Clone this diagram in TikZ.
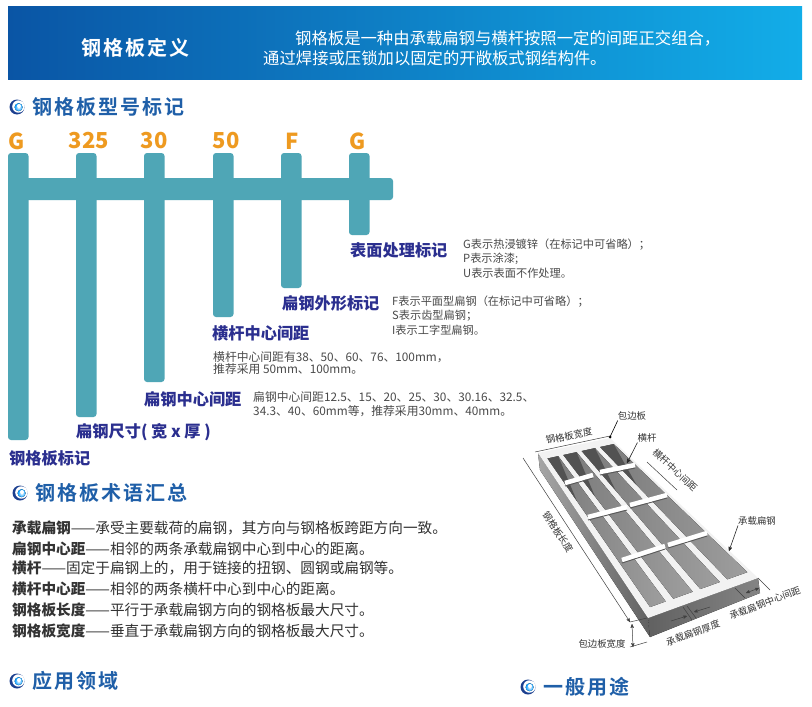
\documentclass[tikz,border=0pt]{standalone}
\usepackage{fontspec}
\setmainfont{Noto Sans CJK SC}
\usepackage{tikz}
\usetikzlibrary{arrows,calc}

\definecolor{tealbar}{HTML}{4FA6B6}
\definecolor{headblue}{HTML}{1F5FA8}
\definecolor{navylabel}{HTML}{2B2F8F}
\definecolor{codeorange}{HTML}{EE9A20}
\definecolor{greytext}{HTML}{4A4A4A}
\definecolor{darktext}{HTML}{333333}
\definecolor{bannerleft}{HTML}{0A55A5}
\definecolor{bannerright}{HTML}{12ADE8}
\definecolor{swirldark}{HTML}{1B3F8F}

\tikzset{
  pics/swirlmark/.style={code={
    \fill[swirldark] (0,0) circle (7.5);
    \fill[white] (1.4,-.5) circle (6.2);
    \fill[inner color=white,outer color=cyan!60!blue] (1.6,.2) circle (4);
    \fill[white] (2,-1) circle (2);
  }}
}

\begin{document}
\begin{tikzpicture}[x=1pt,y=-1pt,>=stealth',
    hbar/.style={fill=tealbar,rounded corners=3pt},
    codetext/.style={font=\fontsize{22}{22}\selectfont\bfseries,text=codeorange,inner sep=0pt},
    headtext/.style={anchor=west,inner sep=0pt,text=headblue},
    sublabel/.style={anchor=west,inner sep=0pt,text=navylabel,font=\fontsize{16.2}{17}\selectfont\bfseries},
    smalltext/.style={anchor=west,inner sep=0pt,text=greytext,font=\fontsize{11.2}{12}\selectfont},
    numtext/.style={anchor=west,inner sep=0pt,text=greytext,font=\fontsize{11.8}{12}\selectfont},
    termtext/.style={anchor=west,inner sep=0pt,text=darktext,font=\fontsize{14.65}{15}\selectfont},
    note/.style={inner sep=0pt,text=darktext,font=\fontsize{9.4}{10}\selectfont},
    dimline/.style={black!75,line width=.5pt},
    leader/.style={->,black!85,line width=.6pt},
    crossbar/.style={white,line width=4.5pt},
    crossshade/.style={black!65,line width=1pt}]
  \newfontfamily\headfont[LetterSpace=10,BoldFont={* Bold}]{Noto Sans CJK SC}
  \path[fill=white,use as bounding box] (0,0) rectangle (812,707);

  \fill[left color=bannerleft,right color=bannerright] (8,6) rectangle (802,79);
  \node[anchor=west,inner sep=0pt,text=white,font=\headfont\fontsize{20}{21}\selectfont\bfseries] (dingyi) at (81,48) {钢格板定义};
  \node[anchor=west,inner sep=0pt,text=white,font=\fontsize{16.35}{17}\selectfont] (dingyiA) at (295,38) {钢格板是一种由承载扁钢与横杆按照一定的间距正交组合，};
  \node[anchor=west,inner sep=0pt,text=white,font=\fontsize{16.35}{17}\selectfont] (dingyiB) at (263,58) {通过焊接或压锁加以固定的开敞板式钢结构件。};

  \pic at (17,107) {swirlmark};
  \node[headtext,font=\headfont\fontsize{20}{21}\selectfont\bfseries] (xinghao) at (32,107) {钢格板型号标记};

  \fill[hbar] (8,178) rectangle (393,200);
  \foreach \xa/\yb in {8/440,76/417,144/382,213/317,281/288,349/235}
    \fill[hbar] (\xa,153) rectangle (\xa+20.5,\yb);

  \node[codetext] (codeA) at (17,141) {G};
  \node[codetext] (codeB) at (89,141) {325};
  \node[codetext] (codeC) at (154,141) {30};
  \node[codetext] (codeD) at (226,141) {50};
  \node[codetext] (codeE) at (292,141) {F};
  \node[codetext] (codeF) at (358,141) {G};

  \node[sublabel] (biaoji) at (9,458) {钢格板标记};
  \node[sublabel] (chicun) at (76,432.5) {扁钢尺寸( 宽 x 厚 )};
  \node[sublabel] (bianju) at (144,399) {扁钢中心间距};
  \node[sublabel] (hengju) at (212,333) {横杆中心间距};
  \node[sublabel] (waixing) at (282,303) {扁钢外形标记};
  \node[sublabel] (biaomian) at (350,250) {表面处理标记};

  \node[smalltext] (bmA) at (463,245) {G表示热浸镀锌（在标记中可省略）；};
  \node[smalltext] (bmB) at (463,259) {P表示涂漆;};
  \node[smalltext] (bmC) at (463,273) {U表示表面不作处理。};
  \node[smalltext] (wxA) at (392,302) {F表示平面型扁钢（在标记中可省略）；};
  \node[smalltext] (wxB) at (392,316) {S表示齿型扁钢；};
  \node[smalltext] (wxC) at (392,330) {I表示工字型扁钢。};
  \node[numtext] (hjA) at (213,357) {横杆中心间距有38、50、60、76、100mm，};
  \node[numtext] (hjB) at (213,369.5) {推荐采用 50mm、100mm。};
  \node[numtext] (bjA) at (253,397) {扁钢中心间距12.5、15、20、25、30、30.16、32.5、};
  \node[numtext] (bjB) at (253,411) {34.3、40、60mm等，推荐采用30mm、40mm。};

  \pic at (20,493) {swirlmark};
  \node[headtext,font=\headfont\fontsize{20}{21}\selectfont\bfseries] (shuyu) at (35,493) {钢格板术语汇总};
  \node[termtext] (termA) at (12,528) {\textbf{承载扁钢}——承受主要载荷的扁钢，其方向与钢格板跨距方向一致。};
  \node[termtext] (termB) at (12,549) {\textbf{扁钢中心距}——相邻的两条承载扁钢中心到中心的距离。};
  \node[termtext] (termC) at (12,568) {\textbf{横杆}——固定于扁钢上的，用于链接的扭钢、圆钢或扁钢等。};
  \node[termtext] (termD) at (12,589) {\textbf{横杆中心距}——相邻的两条横杆中心到中心的距离。};
  \node[termtext] (termE) at (12,610) {\textbf{钢格板长度}——平行于承载扁钢方向的钢格板最大尺寸。};
  \node[termtext] (termF) at (12,631) {\textbf{钢格板宽度}——垂直于承载扁钢方向的钢格板最大尺寸。};

  \pic at (17,681) {swirlmark};
  \node[headtext,font=\headfont\fontsize{20}{21}\selectfont\bfseries] (lingyu) at (32,681) {应用领域};
  \pic at (528,687) {swirlmark};
  \node[headtext,font=\headfont\fontsize{20}{21}\selectfont\bfseries] (yongtu) at (543,687) {一般用途};

  \coordinate (A) at (538,453);
  \coordinate (B) at (610,438);
  \coordinate (C) at (758,578);
  \coordinate (D) at (648,618);
  \coordinate (Dlow) at (650,637);
  \coordinate (Clow) at (760,593);
  \coordinate (Alow) at (540,470);

  \fill[left color=black!35,right color=black!62] (A) -- (D) -- (Dlow) -- (Alow) -- cycle;
  \fill[left color=black!62,right color=black!48] (D) -- (C) -- (Clow) -- (Dlow) -- cycle;
  \fill[black!5] (A) -- (B) -- (C) -- (D) -- cycle;
  \foreach \ua/\ub in {.07/.215,.285/.465,.535/.715,.785/.97} {
    \coordinate (pa) at ($($(A)!\ua!(B)$)!.04!($(D)!\ua!(C)$)$);
    \coordinate (pb) at ($($(A)!\ub!(B)$)!.04!($(D)!\ub!(C)$)$);
    \coordinate (pc) at ($($(A)!\ub!(B)$)!.95!($(D)!\ub!(C)$)$);
    \coordinate (pd) at ($($(A)!\ua!(B)$)!.95!($(D)!\ua!(C)$)$);
    \coordinate (pe) at ($($(A)!\ua!(B)$)!.3!($(D)!\ua!(C)$)$);
    \fill[left color=black!52,right color=black!38] (pa) -- (pb) -- (pc) -- (pd) -- cycle;
    \fill[black!68] (pa) -- (pb) -- (pe) -- cycle;
  }
  \foreach \xa/\ya/\xb/\yb in {565/483/593/475,600/472/635/465,588/517/627/507,630/505/667/495,622/560/665/546,668/545/707/533} {
    \draw[crossshade] (\xa,\ya+3) -- (\xb,\yb+3);
    \draw[crossbar] (\xa,\ya) -- (\xb,\yb);
  }

  \node[note] (baobian) at (632,416) {包边板};
  \node[note] (henggan) at (647,438) {横杆};
  \node[note] (chengzai) at (757,521) {承载扁钢};
  \node[note,rotate=11] (kuandu) at (569,436) {钢格板宽度};
  \node[note,rotate=-43] (hengzhong) at (675,470) {横杆中心间距};
  \node[note,rotate=-57] (changdu) at (558,532) {钢格板长度};
  \node[note,rotate=21] (zhongxin) at (765,603) {承载扁钢中心间距};
  \node[note,rotate=20] (houdu) at (693,633) {承载扁钢厚度};
  \node[note] (biankuan) at (602,644) {包边板宽度};

  \coordinate (baoEnd) at (610,437);
  \coordinate (hengEnd) at (627,463);
  \coordinate (zaiEnd) at (729,551);
  \draw[black,line width=.6pt] (baobian.south west) -- (baoEnd);
  \fill (baoEnd) circle (1.5);
  \draw[leader] (henggan.south west) -- (hengEnd);
  \draw[leader] (chengzai.south west) -- (zaiEnd);

  \coordinate (kuanL) at (535,452);
  \coordinate (kuanR) at (610,436);
  \coordinate (hzA) at (647,462);
  \coordinate (hzB) at (677,490);
  \coordinate (chA) at (523,458);
  \coordinate (chB) at (630,622);
  \coordinate (bkA) at (632,624);
  \coordinate (bkB) at (633,647);
  \draw[dimline] (kuanL) -- (kuanR);
  \draw[dimline] (hzA) -- (hzB);
  \draw[dimline,<-] (chB) -- (chA);
  \draw[dimline,<->] (bkA) -- (bkB);
  \coordinate (bkC) at (647,618);
  \coordinate (bkD) at (630,647);
  \coordinate (bkE) at (647,642);
  \draw[dimline] (chB) -- (bkC);
  \draw[dimline] (bkD) -- (bkE);

  \coordinate (zxA) at (735,588);
  \coordinate (zxB) at (745,598);
  \coordinate (zxC) at (758,578);
  \coordinate (zxD) at (770,590);
  \coordinate (zxE) at (746,593);
  \coordinate (zxF) at (759,588);
  \draw[dimline] (zxA) -- (zxB);
  \draw[dimline] (zxC) -- (zxD);
  \draw[dimline,<->] (zxE) -- (zxF);

  \coordinate (hdA) at (683,607);
  \coordinate (hdB) at (692,620);
  \coordinate (hdC) at (687,606);
  \coordinate (hdD) at (696,618);
  \coordinate (hdE) at (671,621);
  \coordinate (hdF) at (687,616);
  \coordinate (hdG) at (710,607);
  \coordinate (hdH) at (694,612);
  \draw[dimline] (hdA) -- (hdB);
  \draw[dimline] (hdC) -- (hdD);
  \draw[dimline,->] (hdE) -- (hdF);
  \draw[dimline,->] (hdG) -- (hdH);
\end{tikzpicture}
\end{document}
